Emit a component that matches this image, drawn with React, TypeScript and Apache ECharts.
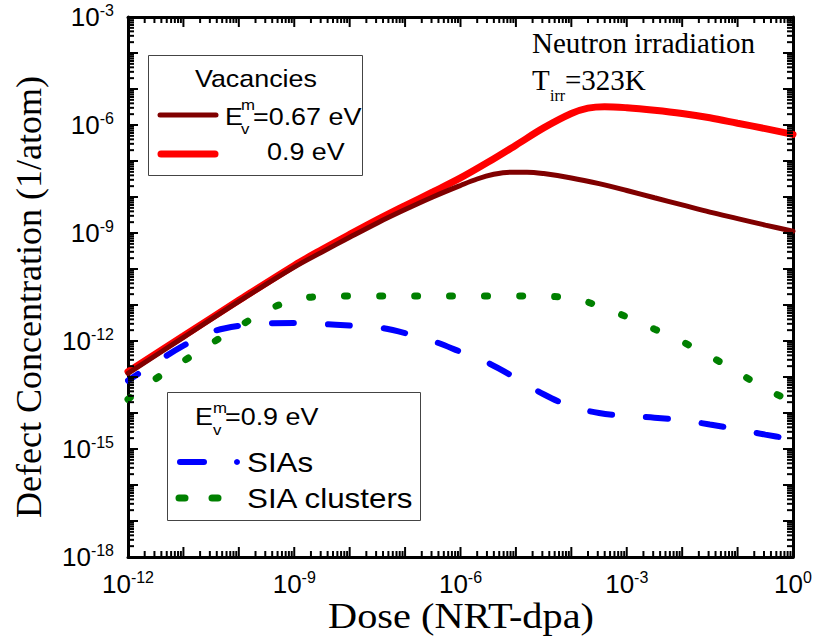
import React, { useEffect, useRef } from "react";
import * as echarts from "echarts";

// log10 of dose (NRT-dpa)
const doseVac067 = [-12, -11, -10, -9, -8.5, -8, -7.5, -7, -6.5, -6, -5.7, -5.4, -5.1, -4.8, -4.5, -4, -3.5, -3, -2.5, -2, -1.5, -1, -0.5, 0];
// log10 of vacancy concentration, Em = 0.67 eV
const vac067 = [-12.9, -11.9, -10.9, -9.95, -9.53, -9.12, -8.72, -8.35, -8.0, -7.68, -7.5, -7.37, -7.31, -7.31, -7.35, -7.47, -7.63, -7.82, -8.02, -8.22, -8.42, -8.6, -8.78, -8.95];

const doseVac09 = [-12, -11, -10, -9, -8.5, -8, -7.5, -7, -6.5, -6, -5.5, -5, -4.5, -4, -3.7, -3.4, -3, -2.5, -2, -1.5, -1, -0.5, 0];
// log10 of vacancy concentration, Em = 0.9 eV
const vac09 = [-12.85, -11.86, -10.87, -9.9, -9.46, -9.04, -8.63, -8.24, -7.86, -7.47, -7.03, -6.56, -6.08, -5.68, -5.53, -5.49, -5.52, -5.59, -5.68, -5.8, -5.95, -6.1, -6.26];

const doseSia = [-12, -11.5, -11, -10.5, -10, -9.5, -9, -8.5, -8, -7.5, -7, -6.5, -6, -5.5, -5, -4.5, -4, -3.5, -3, -2.5, -2, -1.5, -1, -0.5, 0];
// log10 of SIA concentration
const sia = [-13.1, -12.6, -12.13, -11.75, -11.58, -11.51, -11.5, -11.53, -11.57, -11.62, -11.78, -12.0, -12.3, -12.61, -13.03, -13.48, -13.82, -14.0, -14.08, -14.13, -14.2, -14.32, -14.45, -14.6, -14.73];
// log10 of SIA cluster concentration
const siaClusters = [-13.62, -13.05, -12.56, -12.07, -11.6, -11.15, -10.86, -10.76, -10.75, -10.75, -10.75, -10.75, -10.75, -10.75, -10.75, -10.76, -10.8, -11.03, -11.33, -11.67, -12.02, -12.42, -12.87, -13.32, -13.7];

const xMinExp = -12;
const xMaxExp = 0;
const yMinExp = -18;
const yMaxExp = -3;

const pair = (xs: number[], ys: number[]) => xs.map((x, i) => [x, ys[i]]);

const SANS = '"Liberation Sans", Arial, sans-serif';
const SERIF = '"Liberation Serif", "Times New Roman", serif';

// log-axis tick marks (axis decoration): [x, y, isXAxis, length]
function tickData() {
  const out: number[][] = [];
  for (let d = xMinExp; d <= xMaxExp; d++) {
    out.push([d, yMinExp, 1, 10]);
    if (d < xMaxExp) for (let k = 2; k <= 9; k++) out.push([d + Math.log10(k), yMinExp, 1, 6]);
  }
  for (let d = yMinExp; d <= yMaxExp; d++) {
    out.push([xMinExp, d, 0, 10]);
    if (d < yMaxExp) for (let k = 2; k <= 9; k++) out.push([xMinExp, d + Math.log10(k), 0, 6]);
  }
  return out;
}

function txt(x: number, y: number, text: string, size: number, family: string, align = "left", rotation = 0, scaleX = 1) {
  return {
    type: "text",
    x,
    y,
    rotation,
    scaleX,
    z: 100,
    style: {
      text,
      font: `${size}px ${family}`,
      fill: "#000",
      textAlign: align,
      align,
      textVerticalAlign: "middle",
      verticalAlign: "middle",
    },
  };
}

const SX = 1.12;

export default function App() {
  const ref = useRef<HTMLDivElement>(null);
  useEffect(() => {
    document.body.style.margin = "0";
    const chart = echarts.init(ref.current!, null, { renderer: "svg" });
    const labelFmt = (v: number) => {
      const r = Math.round(v);
      return r % 3 === 0 ? `{b|10}{s|${r === 0 ? 0 : r}}` : "";
    };
    const rich = {
      b: { fontSize: 26, fontFamily: SANS, color: "#000", lineHeight: 30 },
      s: { fontSize: 16, fontFamily: SANS, color: "#000", lineHeight: 14, verticalAlign: "top" },
    };
    const mkAxis = (position: string, min: number, max: number, label: any) => ({
      type: "value",
      position,
      min,
      max,
      interval: 1,
      splitLine: { show: false },
      axisLine: { show: true, onZero: false, lineStyle: { color: "#000", width: 3 } },
      axisTick: { show: false },
      axisLabel: label,
    });
    const xLabel = { formatter: labelFmt, rich, margin: 12, showMinLabel: true, showMaxLabel: true };
    const yLabel = { formatter: labelFmt, rich, margin: 14, showMinLabel: true, showMaxLabel: true };
    const option: any = {
      animation: false,
      backgroundColor: "#fff",
      grid: { left: 128, top: 17, width: 665, height: 540, containLabel: false, outerBoundsMode: "none" },
      xAxis: [
        mkAxis("bottom", xMinExp, xMaxExp, xLabel),
        mkAxis("top", xMinExp, xMaxExp, { show: false }),
      ],
      yAxis: [
        mkAxis("left", yMinExp, yMaxExp, yLabel),
        mkAxis("right", yMinExp, yMaxExp, { show: false }),
      ],
      series: [
        {
          name: "0.9 eV",
          type: "line",
          data: pair(doseVac09, vac09),
          showSymbol: false,
          symbol: "none",
          smooth: 0.35,
          z: 3,
          lineStyle: { color: "#ff0000", width: 7, cap: "round" },
        },
        {
          name: "Em=0.67 eV",
          type: "line",
          data: pair(doseVac067, vac067),
          showSymbol: false,
          symbol: "none",
          smooth: 0.35,
          z: 4,
          lineStyle: { color: "#800000", width: 5, cap: "round" },
        },
        {
          name: "SIA clusters",
          type: "line",
          data: pair(doseSia, siaClusters),
          showSymbol: false,
          symbol: "none",
          smooth: 0.35,
          z: 5,
          lineStyle: { color: "#008000", width: 7, type: [3, 32], cap: "round" },
        },
        {
          name: "SIAs",
          type: "line",
          data: pair(doseSia, sia),
          showSymbol: false,
          symbol: "none",
          smooth: 0.35,
          z: 6,
          lineStyle: { color: "#0000ff", width: 6, type: [22, 34], cap: "round", dashOffset: 10 },
        },
        {
          type: "custom",
          z: 10,
          silent: true,
          clip: false,
          data: tickData(),
          renderItem: (params: any, api: any) => {
            const isX = api.value(2) === 1;
            const len = api.value(3);
            const st = { stroke: "#000", lineWidth: 2 };
            if (isX) {
              const x = api.value(0);
              const b = api.coord([x, yMinExp]);
              const t = api.coord([x, yMaxExp]);
              return {
                type: "group",
                children: [
                  { type: "line", shape: { x1: b[0], y1: b[1], x2: b[0], y2: b[1] - len }, style: st },
                  { type: "line", shape: { x1: t[0], y1: t[1], x2: t[0], y2: t[1] + len }, style: st },
                ],
              };
            }
            const y = api.value(1);
            const l = api.coord([xMinExp, y]);
            const r = api.coord([xMaxExp, y]);
            return {
              type: "group",
              children: [
                { type: "line", shape: { x1: l[0], y1: l[1], x2: l[0] + len, y2: l[1] }, style: st },
                { type: "line", shape: { x1: r[0], y1: r[1], x2: r[0] - len, y2: r[1] }, style: st },
              ],
            };
          },
        },
      ],
      graphic: [
        // axis titles
        txt(29, 297, "Defect Concentration (1/atom)", 36, SERIF, "center", Math.PI / 2),
        txt(461, 616, "Dose (NRT-dpa)", 36, SERIF, "center", 0, 1.12),
        // annotation
        txt(532, 43, "Neutron irradiation", 29, SERIF),
        txt(532, 80, "T", 29, SERIF),
        txt(550, 95, "irr", 16, SERIF),
        txt(565, 80, "=323K", 29, SERIF),
        // legend box 1
        {
          type: "rect",
          z: 90,
          shape: { x: 148.5, y: 55.5, width: 214, height: 120 },
          style: { fill: "#fff", stroke: "#444", lineWidth: 1 },
        },
        txt(195, 79, "Vacancies", 24, SANS, "left", 0, SX),
        {
          type: "line",
          z: 100,
          shape: { x1: 160, y1: 115, x2: 216, y2: 115 },
          style: { stroke: "#800000", lineWidth: 5, lineCap: "round" },
        },
        txt(225, 116.5, "E", 24, SANS, "left", 0, SX),
        txt(241, 105, "m", 15, SANS, "left", 0, SX),
        txt(241, 129, "v", 15, SANS, "left", 0, SX),
        txt(253, 116.5, "=0.67 eV", 24, SANS, "left", 0, SX),
        {
          type: "line",
          z: 100,
          shape: { x1: 161, y1: 154, x2: 215, y2: 154 },
          style: { stroke: "#ff0000", lineWidth: 7, lineCap: "round" },
        },
        txt(267, 152, "0.9 eV", 24, SANS, "left", 0, SX),
        // legend box 2
        {
          type: "rect",
          z: 90,
          shape: { x: 167.5, y: 392.5, width: 253, height: 128 },
          style: { fill: "#fff", stroke: "#444", lineWidth: 1 },
        },
        txt(195, 417, "E", 24, SANS, "left", 0, SX),
        txt(213, 408, "m", 15, SANS, "left", 0, SX),
        txt(213, 430, "v", 15, SANS, "left", 0, SX),
        txt(225, 417, "=0.9 eV", 24, SANS, "left", 0, SX),
        {
          type: "line",
          z: 100,
          shape: { x1: 180, y1: 462, x2: 204, y2: 462 },
          style: { stroke: "#0000ff", lineWidth: 6, lineCap: "round" },
        },
        { type: "circle", z: 100, shape: { cx: 237, cy: 462, r: 3 }, style: { fill: "#0000ff" } },
        txt(247, 462, "SIAs", 28, SANS, "left", 0, SX),
        {
          type: "line",
          z: 100,
          shape: { x1: 179, y1: 498, x2: 185, y2: 498 },
          style: { stroke: "#008000", lineWidth: 7, lineCap: "round" },
        },
        {
          type: "line",
          z: 100,
          shape: { x1: 212, y1: 498, x2: 218, y2: 498 },
          style: { stroke: "#008000", lineWidth: 7, lineCap: "round" },
        },
        txt(247, 498, "SIA clusters", 28, SANS, "left", 0, SX),
      ],
    };
    chart.setOption(option);
    return () => chart.dispose();
  }, []);
  return <div ref={ref} style={{ width: 816, height: 639 }} />;
}
